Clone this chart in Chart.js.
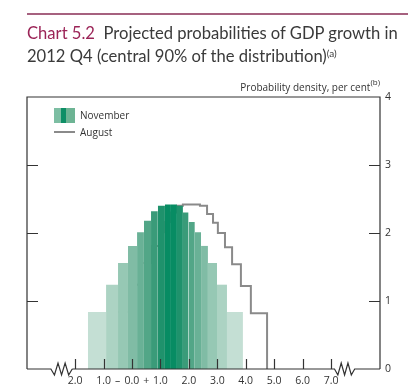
<!DOCTYPE html>
<html>
<head>
<meta charset="utf-8">
<script src="https://cdn.jsdelivr.net/npm/chart.js@4.4.0/dist/chart.umd.min.js"></script>
<style>
    html, body { margin: 0; padding: 0; background: #fff; }
    #wrap { position: relative; width: 408px; height: 388px; overflow: hidden; font-family: "Open Sans", sans-serif; color: #333; }
    #chart { position: absolute; left: 0; top: 0; }
    #rule { position: absolute; left: 27px; top: 13px; width: 381px; height: 2px; background: #a6617f; }
    #title { position: absolute; left: 27px; top: 22px; font-family: Lato, sans-serif; font-size: 16.6px; line-height: 23px; color: #3a3a3a; white-space: nowrap; }
    #title .num { color: #9b2457; }
    #title sup { font-size: 10px; vertical-align: top; position: relative; top: -3px; }
    #ylab { position: absolute; right: 28px; top: 80px; font-size: 10px; white-space: nowrap; }
    #ylab sup { font-size: 8px; vertical-align: top; position: relative; top: -4px; }
    .leg { position: absolute; left: 80px; font-size: 10px; white-space: nowrap; }
    #swatch { position: absolute; left: 54px; top: 108px; width: 21px; height: 15px;
        background: linear-gradient(to right, #7dbea3 0 7px, #0e8f66 7px 12px, #6db494 12px 21px); }
    #augline { position: absolute; left: 54px; top: 131px; width: 21px; height: 2px; background: #8a8a8a; }
</style>
</head>
<body>
<div id="wrap">
    <canvas id="chart" width="408" height="388"></canvas>
    <div id="rule"></div>
    <div id="title"><span class="num">Chart 5.2</span>&nbsp; Projected probabilities of GDP growth in<br>2012 Q4 (central 90% of the distribution)<sup>(a)</sup></div>
    <div id="ylab">Probability density, per cent<sup>(b)</sup></div>
    <div id="swatch"></div>
    <div class="leg" style="top:108px;">November</div>
    <div id="augline"></div>
    <div class="leg" style="top:125px;">August</div>
</div>
<script>
// November projection: step edges (GDP growth, %) and density heights
const novEdges = [-1.55, -0.91, -0.49, -0.14, 0.18, 0.42, 0.67, 0.91, 1.16, 1.37,
                  1.58, 1.79, 1.99, 2.21, 2.43, 2.67, 2.99, 3.34, 3.90];
const novHeights = [0.84, 1.24, 1.56, 1.81, 2.01, 2.18, 2.32, 2.40, 2.42,
                    2.42, 2.40, 2.30, 2.16, 2.01, 1.81, 1.56, 1.24, 0.84];
const novShade = [0, 1, 2, 3, 4, 5, 6, 7, 8, 8, 7, 6, 5, 4, 3, 2, 1, 0];

// August projection outline
const augEdges = [-0.74, -0.11, 0.35, 0.67, 0.95, 1.16, 1.37, 1.58, 1.79, 2.04,
                  2.39, 2.64, 2.85, 3.02, 3.27, 3.52, 3.83, 4.18, 4.75];
const augHeights = [0.84, 1.24, 1.56, 1.81, 2.01, 2.16, 2.30, 2.40, 2.42,
                    2.42, 2.40, 2.28, 2.15, 2.00, 1.79, 1.54, 1.22, 0.82];

const shades = ['#c4dfd4', '#acd3c3', '#96c8b4', '#80bca5', '#69b196',
                '#52a687', '#3a9b79', '#1f926c', '#078c63'];

const xTickValues = [-2, -1, -0.5, 0, 0.5, 1, 2, 3, 4, 5, 6, 7];
const xTickLabels = ['2.0', '1.0', '\u2013', '0.0', '+', '1.0', '2.0', '3.0', '4.0', '5.0', '6.0', '7.0'];
const xMarkValues = [-2, -1, 0, 1, 2, 3, 4, 5, 6, 7];
const yTickValues = [0, 1, 2, 3, 4];
const xBreaks = [[-2.85, -2.1], [7.12, 7.83]];

const datasets = [];
novHeights.forEach((h, i) => {
    datasets.push({
        data: [{ x: novEdges[i], y: h }, { x: novEdges[i + 1], y: h }],
        backgroundColor: shades[novShade[i]],
        borderWidth: 0,
        pointRadius: 0,
        fill: 'origin'
    });
});

const augPoints = [{ x: augEdges[0], y: 0 }];
augHeights.forEach((h, i) => augPoints.push({ x: augEdges[i], y: h }));
augPoints.push({ x: augEdges[augEdges.length - 1], y: 0 });
datasets.push({
    data: augPoints,
    borderColor: '#8a8a8a',
    borderWidth: 2,
    pointRadius: 0,
    fill: false,
    stepped: true
});

const framePlugin = {
    id: 'frame',
    afterDraw(chart) {
        const { ctx, chartArea: a, scales: { x, y } } = chart;
        ctx.save();
        ctx.strokeStyle = '#333';
        ctx.lineWidth = 1.2;
        ctx.beginPath();
        ctx.moveTo(a.left, a.bottom);
        ctx.lineTo(a.left, a.top);
        ctx.lineTo(a.right, a.top);
        ctx.lineTo(a.right, a.bottom);
        ctx.stroke();

        // bottom axis with breaks
        ctx.beginPath();
        let start = a.left;
        xBreaks.forEach(([b0, b1]) => {
            const p0 = x.getPixelForValue(b0);
            const p1 = x.getPixelForValue(b1);
            ctx.moveTo(start, a.bottom);
            ctx.lineTo(p0, a.bottom);
            const n = 6;
            const w = (p1 - p0) / n;
            for (let k = 1; k < n; k++) {
                ctx.lineTo(p0 + w * k, a.bottom + (k % 2 ? 6 : -6));
            }
            ctx.lineTo(p1, a.bottom);
            start = p1;
        });
        ctx.lineTo(a.right, a.bottom);
        ctx.stroke();

        // x tick marks (pointing up)
        ctx.beginPath();
        xMarkValues.forEach(v => {
            const px = Math.round(x.getPixelForValue(v)) + 0.5;
            ctx.moveTo(px, a.bottom);
            ctx.lineTo(px, a.bottom - 10);
        });
        // y tick marks (inward, both sides)
        yTickValues.slice(1, -1).forEach(v => {
            const py = Math.round(y.getPixelForValue(v)) + 0.5;
            ctx.moveTo(a.left, py);
            ctx.lineTo(a.left + 11, py);
            ctx.moveTo(a.right - 11, py);
            ctx.lineTo(a.right, py);
        });
        ctx.stroke();
        ctx.restore();
    }
};

new Chart(document.getElementById('chart'), {
    type: 'line',
    data: { datasets },
    options: {
        responsive: false,
        animation: false,
        layout: { padding: { left: 27, top: 97, right: 0, bottom: 0 } },
        plugins: { legend: { display: false }, tooltip: { enabled: false } },
        scales: {
            x: {
                type: 'linear',
                min: -3.69,
                max: 8.72,
                grid: { display: false, drawTicks: false },
                border: { display: false },
                afterBuildTicks: s => { s.ticks = xTickValues.map(v => ({ value: v })); },
                afterFit: s => { s.height = 19; },
                ticks: {
                    autoSkip: false,
                    maxRotation: 0,
                    padding: 6,
                    color: '#333',
                    font: { family: 'Open Sans', size: 10.5 },
                    callback: (v, i) => xTickLabels[i]
                }
            },
            y: {
                position: 'right',
                min: 0,
                max: 4,
                grid: { display: false, drawTicks: false },
                border: { display: false },
                afterBuildTicks: s => { s.ticks = yTickValues.map(v => ({ value: v })); },
                afterFit: s => { s.width = 28; },
                ticks: {
                    padding: 5,
                    color: '#333',
                    font: { family: 'Open Sans', size: 10.5 }
                }
            }
        }
    },
    plugins: [framePlugin]
});
</script>
</body>
</html>
